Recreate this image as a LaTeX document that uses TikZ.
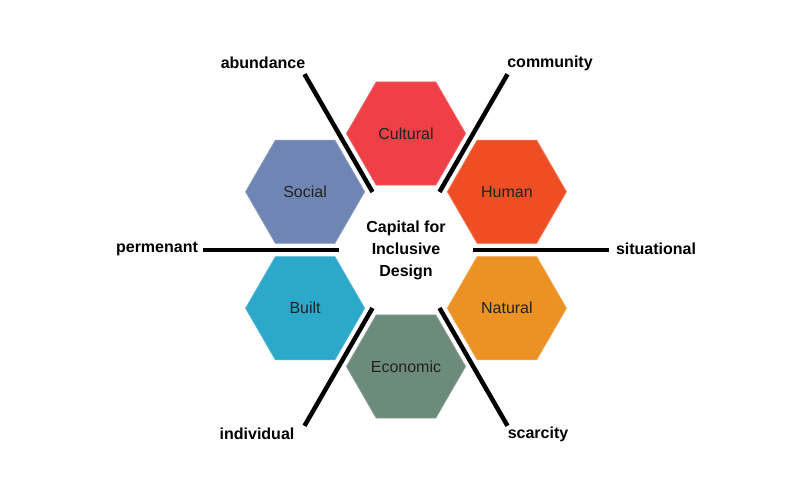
\documentclass[tikz,border=0pt]{standalone}
\usepackage{fontspec}
\setmainfont{Liberation Sans}
\usetikzlibrary{shapes.geometric,calc}
\definecolor{cCult}{HTML}{EF3F47}
\definecolor{cHum}{HTML}{EF4E24}
\definecolor{cSoc}{HTML}{6F86B5}
\definecolor{cBuilt}{HTML}{2CA8CB}
\definecolor{cNat}{HTML}{EC9224}
\definecolor{cEco}{HTML}{6D8B7B}
\definecolor{hextext}{HTML}{222222}
\tikzset{
  x=1pt,y=1pt,
  hexbox/.style={regular polygon, regular polygon sides=6, minimum size=119pt, inner sep=0pt, outer sep=0pt,
    line width=0.8pt, font=\fontsize{16}{19}\selectfont, text=hextext},
  axislabel/.style={font=\bfseries\fontsize{16}{19}\selectfont, text=black, inner sep=0pt},
  axisline/.style={line width=4.5pt, black},
}
\begin{document}
\begin{tikzpicture}
\useasboundingbox (0,0) rectangle (800,500);
\coordinate (mid) at (406,250);
\node[font=\bfseries\fontsize{16}{22}\selectfont, align=center, inner sep=0pt] (center) at (mid) {Capital for\\Inclusive\\Design};
% hexagons
\node[hexbox, fill=cCult, draw=cCult!85!white] (cult) at ($(mid)+(90:116.5)$) {Cultural};
\node[hexbox, fill=cHum, draw=cHum!80!white] (hum) at ($(mid)+(30:116.5)$) {Human};
\node[hexbox, fill=cNat, draw=cNat!85!white] (nat) at ($(mid)+(-30:116.5)$) {Natural};
\node[hexbox, fill=cEco, draw=cEco!85!white] (eco) at ($(mid)+(-90:116.5)$) {Economic};
\node[hexbox, fill=cBuilt, draw=cBuilt!85!white] (built) at ($(mid)+(210:116.5)$) {Built};
\node[hexbox, fill=cSoc, draw=cSoc!85!white] (soc) at ($(mid)+(150:116.5)$) {Social};
% axis line endpoints
\foreach \a/\n in {0/e,60/ne,120/nw,180/w,240/sw,300/se}{
  \coordinate (in\n) at ($(mid)+(\a:67)$);
  \coordinate (out\n) at ($(mid)+(\a:203)$);
}
\draw[axisline] (ine) -- (oute);
\draw[axisline] (inne) -- (outne);
\draw[axisline] (innw) -- (outnw);
\draw[axisline] (inw) -- (outw);
\draw[axisline] (insw) -- (outsw);
\draw[axisline] (inse) -- (outse);
% labels
\node[axislabel] (abund) at (263,437) {abundance};
\node[axislabel] (comm) at (550,437) {community};
\node[axislabel] (perm) at (157,251) {permenant};
\node[axislabel] (sit) at (656,251) {situational};
\node[axislabel] (indiv) at (257,66) {individual};
\node[axislabel] (scar) at (538,66) {scarcity};
\end{tikzpicture}
\end{document}
